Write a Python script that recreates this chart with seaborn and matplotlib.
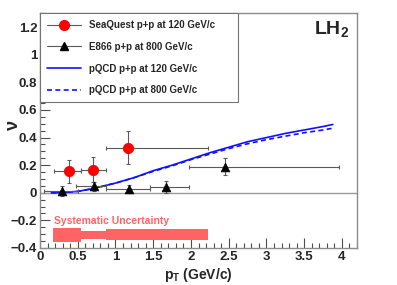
import numpy as np
import pandas as pd
import matplotlib
matplotlib.use('Agg')
import matplotlib.pyplot as plt
from matplotlib.lines import Line2D
from matplotlib.ticker import MultipleLocator
import seaborn as sns

# SeaQuest p+p at 120 GeV/c
sq_pt = [0.38, 0.70, 1.17]
sq_nu = [0.155, 0.168, 0.327]
sq_xlo = [0.18, 0.54, 0.87]
sq_xhi = [0.54, 0.87, 2.22]
sq_err = [0.085, 0.09, 0.12]

# E866 p+p at 800 GeV/c
e866_pt = [0.29, 0.72, 1.18, 1.67, 2.45]
e866_nu = [0.015, 0.046, 0.025, 0.040, 0.190]
e866_xlo = [0.05, 0.48, 0.87, 1.46, 1.98]
e866_xhi = [0.50, 0.87, 1.46, 1.98, 3.96]
e866_err = [0.035, 0.035, 0.03, 0.045, 0.062]

# pQCD curves
qcd_pt = [0.15, 0.3, 0.5, 0.7, 1.0, 1.25, 1.5, 1.75, 2.0, 2.25, 2.5, 2.75, 3.0, 3.25, 3.5, 3.75, 3.88]
qcd120 = [0.0, 0.002, 0.01, 0.03, 0.07, 0.11, 0.16, 0.20, 0.245, 0.29, 0.33, 0.37, 0.40, 0.43, 0.455, 0.48, 0.495]
qcd800 = [0.0, 0.002, 0.01, 0.03, 0.07, 0.11, 0.155, 0.195, 0.24, 0.28, 0.32, 0.355, 0.385, 0.41, 0.435, 0.455, 0.468]

# systematic uncertainty boxes (x from, x to, half height)
sys_xlo = [0.17, 0.54, 0.87]
sys_xhi = [0.54, 0.87, 2.22]
sys_half = [0.053, 0.030, 0.039]
sys_center = -0.305

sns.set_style('ticks')
plt.rcParams['font.family'] = ['Liberation Sans', 'DejaVu Sans']
plt.rcParams['font.weight'] = 'bold'

fig = plt.figure(figsize=(3.97, 2.85), dpi=100)
ax = fig.add_axes([0.1008, 0.13, 0.7985, 0.823])

ax.axhline(0, color='0.6', lw=1.0, zorder=1)

salmon = '#ff6464'
for lo, hi, h in zip(sys_xlo, sys_xhi, sys_half):
    ax.fill_between([lo, hi], sys_center - h, sys_center + h, color=salmon, lw=0, zorder=1)
ax.text(0.18, -0.205, 'Systematic Uncertainty', color=salmon, fontsize=7.5,
        fontweight='bold', va='center', ha='left')

qcd = pd.DataFrame({'pt': qcd_pt, 'nu120': qcd120, 'nu800': qcd800})
sns.lineplot(data=qcd, x='pt', y='nu120', ax=ax, color='#1010ff', lw=1.2, zorder=3)
sns.lineplot(data=qcd, x='pt', y='nu800', ax=ax, color='#1010ff', lw=1.2,
             linestyle=(0, (3, 2)), zorder=3)

ebc = '0.35'
sq_xerr = [np.array(sq_pt) - np.array(sq_xlo), np.array(sq_xhi) - np.array(sq_pt)]
ax.errorbar(sq_pt, sq_nu, yerr=sq_err, xerr=sq_xerr, fmt='none', ecolor=ebc,
            elinewidth=0.8, capsize=1.5, capthick=0.8, zorder=4)
e_xerr = [np.array(e866_pt) - np.array(e866_xlo), np.array(e866_xhi) - np.array(e866_pt)]
ax.errorbar(e866_pt, e866_nu, yerr=e866_err, xerr=e_xerr, fmt='none', ecolor=ebc,
            elinewidth=0.8, capsize=1.5, capthick=0.8, zorder=4)

sns.scatterplot(x=sq_pt, y=sq_nu, ax=ax, color='red', marker='o', s=55,
                edgecolor='red', zorder=5)
sns.scatterplot(x=e866_pt, y=e866_nu, ax=ax, color='black', marker='^', s=40,
                edgecolor='black', zorder=5)

ax.set_xlim(0, 4.2)
ax.set_ylim(-0.4, 1.3)
ax.xaxis.set_minor_locator(MultipleLocator(0.1))
ax.yaxis.set_minor_locator(MultipleLocator(0.05))
ax.set_xticks([0, 0.5, 1, 1.5, 2, 2.5, 3, 3.5, 4])
ax.set_xticklabels(['0', '0.5', '1', '1.5', '2', '2.5', '3', '3.5', '4'])
ax.set_yticks([-0.4, -0.2, 0, 0.2, 0.4, 0.6, 0.8, 1, 1.2])
ax.set_yticklabels(['\u22120.4', '\u22120.2', '0', '0.2', '0.4', '0.6', '0.8', '1', '1.2'])
ax.tick_params(which='both', direction='in', color='0.3', labelsize=9.5, pad=2)
ax.tick_params(which='major', length=7, width=0.8)
ax.tick_params(which='minor', length=3.5, width=0.8)
for sp in ax.spines.values():
    sp.set_color('0.55')
    sp.set_linewidth(1.0)

ax.set_xlabel('p$_\\mathregular{T}$ (GeV/c)', fontsize=10, fontweight='bold', labelpad=2)
ax.set_ylabel('\u03bd', fontsize=13, fontweight='bold')
ax.yaxis.set_label_coords(-0.057, 0.525)

ax.text(0.975, 0.93, 'LH$_\\mathregular{2}$', transform=ax.transAxes, fontsize=14,
        fontweight='bold', ha='right', va='center')

handles = [
    Line2D([], [], color='0.35', lw=0.8, marker='o', ms=7, mfc='red', mec='red'),
    Line2D([], [], color='0.35', lw=0.8, marker='^', ms=6, mfc='black', mec='black'),
    Line2D([], [], color='#1010ff', lw=1.2),
    Line2D([], [], color='#1010ff', lw=1.2, linestyle=(0, (3, 2))),
]
labels = ['SeaQuest p+p at 120 GeV/c', 'E866 p+p at 800 GeV/c',
          'pQCD p+p at 120 GeV/c', 'pQCD p+p at 800 GeV/c']
leg = ax.legend(handles, labels, loc='upper left', bbox_to_anchor=(0, 0, 0.625, 1),
                mode='expand', borderaxespad=0, fancybox=False, framealpha=1,
                edgecolor='0.45', prop={'size': 7, 'weight': 'bold'},
                handlelength=3.5, handletextpad=0.8, labelspacing=1.2, borderpad=0.7)
leg.get_frame().set_linewidth(0.8)

fig.savefig('out.png', dpi=100)
